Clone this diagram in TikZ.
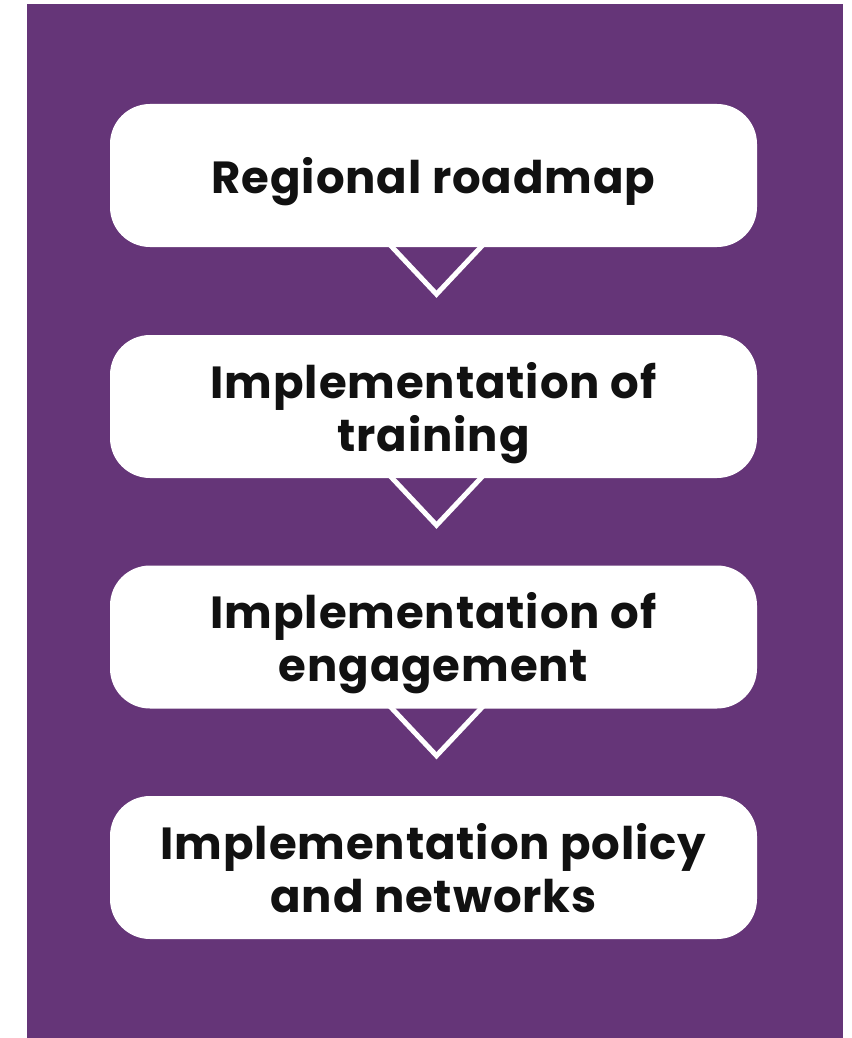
\documentclass[tikz,border=0pt]{standalone}
\usepackage{fontspec}
\setmainfont{Poppins}[LetterSpace=2.0]
\usetikzlibrary{calc}
\definecolor{bgpurple}{HTML}{653578}
\definecolor{txt}{HTML}{111111}
\begin{document}
\begin{tikzpicture}[x=1pt,y=-1pt,
  stepbox/.style={fill=white, draw=none, rounded corners=40pt, minimum width=647pt,
    minimum height=143pt, inner sep=0pt, align=center, text=txt, text depth=0pt,
    font=\fontsize{45}{53}\selectfont\bfseries},
  vline/.style={draw=white, line width=5pt, line join=miter}]
\useasboundingbox (0,0) rectangle (851,1038);
\fill[bgpurple] (27,4) rectangle (843,1038);
\node[stepbox] (b1) at (433.5,175.5) {Regional roadmap};
\node[stepbox] (b2) at (433.5,406.5) {Implementation of\\training};
\node[stepbox] (b3) at (433.5,637) {Implementation of\\engagement};
\node[stepbox] (b4) at (433.5,867.5) {Implementation policy\\and networks};
\foreach \a/\b in {b1/b2,b2/b3,b3/b4}{
  \draw[vline] ($(\a.south)+(-45,-4)$) -- ($(\a.south)+(3,47)$) -- ($(\a.south)+(51,-4)$);
}
\end{tikzpicture}
\end{document}
